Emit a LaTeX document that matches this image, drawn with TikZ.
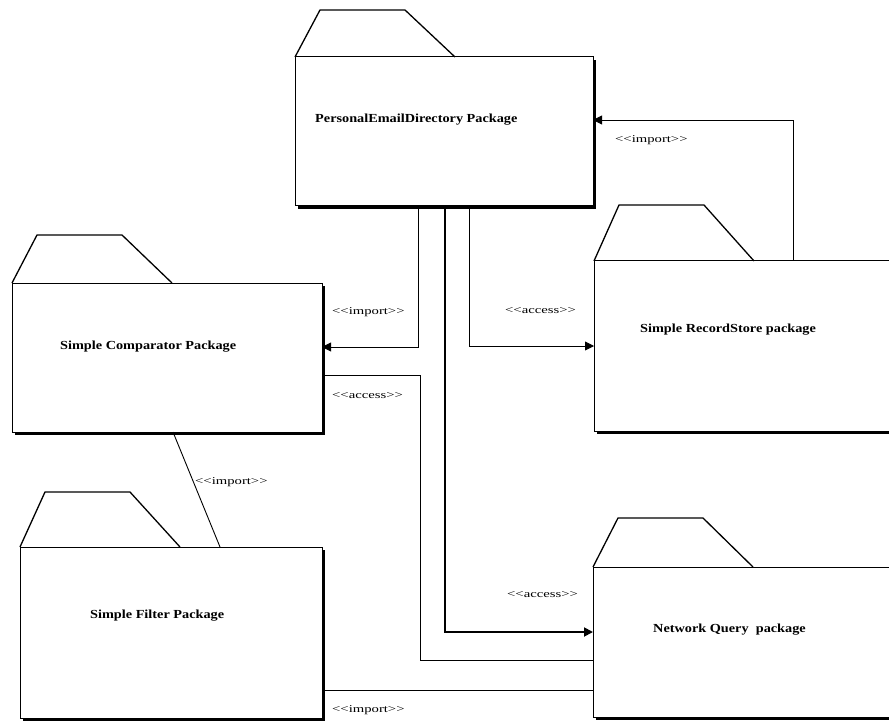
\documentclass[tikz,border=0pt]{standalone}
\usepackage{fontspec}
\setmainfont{Liberation Serif}
\newfontfamily\pkgfont[FakeStretch=1.16]{Liberation Serif}
\newfontfamily\stereofont[FakeStretch=1.4]{Liberation Serif}
\usetikzlibrary{
	arrows.meta,
	calc,
	shadows
}
\tikzset{
	paquete/.style={
		draw,
		line width=1pt,
		fill=white,
		inner sep=0pt,
		outer sep=0pt,
		anchor=north west,
		drop shadow={shadow xshift=3pt, shadow yshift=-3pt, fill=black, opacity=1}
	},
	pestanaLinea/.style={
		line width=1.3pt,
		line join=miter
	},
	nombre/.style={
		anchor=west,
		inner sep=0pt,
		font=\pkgfont\fontsize{12.3}{14}\selectfont\bfseries
	},
	estereotipo/.style={
		anchor=west,
		inner sep=0pt,
		font=\stereofont\fontsize{10.5}{12}\selectfont
	},
	dependencia/.style={
		line width=0.9pt
	},
	flecha/.style={
		-{Triangle[length=9pt,width=9pt]},
		line width=0.9pt
	}
}
% folder tab on top of a package box
\newcommand\pestana[2]{%
	\draw[pestanaLinea] (#1.north west) -- ++(25,-#2) -- ++(85,0) -- ++(50,#2);}

\begin{document}
\begin{tikzpicture}[x=1pt, y=-1pt]
	\useasboundingbox (0,0) rectangle (889,722);

	% packages
	\node[paquete, minimum width=298pt, minimum height=149pt] (ped) at (295,57) {};
	\node[paquete, minimum width=310pt, minimum height=149pt] (cmp) at (12,283) {};
	\node[paquete, minimum width=300pt, minimum height=170pt] (rs) at (594,261) {};
	\node[paquete, minimum width=302pt, minimum height=171pt] (flt) at (20,547) {};
	\node[paquete, minimum width=300pt, minimum height=150pt] (nq) at (593,567) {};
	\pestana{ped}{47}
	\pestana{cmp}{48}
	\pestana{rs}{56}
	\pestana{flt}{55}
	\pestana{nq}{49}

	\node[nombre] (ped-txt) at (315,120) {PersonalEmailDirectory Package};
	\node[nombre] (cmp-txt) at (60,347) {Simple Comparator Package};
	\node[nombre] (rs-txt) at (640,330) {Simple RecordStore package};
	\node[nombre] (flt-txt) at (90,616) {Simple Filter Package};
	\node[nombre] (nq-txt) at (653,630) {Network Query\ \ package};

	% dependencies
	\draw[flecha] ($(rs.north west)+(199,0)$) |- ($(ped.north east)+(0,63)$);
	\draw[flecha] ($(ped.south west)+(123,0)$) |- ($(cmp.north east)+(0,64)$);
	\draw[dependencia] ($(cmp.north east)+(0,92)$) -- ++(98,0) |- ($(nq.north west)+(0,93)$);
	\draw[flecha, line width=1.8pt] ($(ped.south west)+(150,0)$) |- ($(nq.north west)+(0,65)$);
	\draw[flecha] ($(ped.south west)+(174,0)$) |- ($(rs.north west)+(0,85)$);
	\draw[dependencia] ($(cmp.south west)+(161,0)$) -- ($(flt.north west)+(200,0)$);
	\draw[dependencia] ($(flt.north east)+(0,143)$) -- ($(nq.north west)+(0,123)$);

	\node[estereotipo] (l-rs-ped) at (615,140) {<<import>>};
	\node[estereotipo] (l-ped-cmp) at (332,312) {<<import>>};
	\node[estereotipo] (l-cmp-nq) at (332,396) {<<access>>};
	\node[estereotipo] (l-ped-nq) at (507,595) {<<access>>};
	\node[estereotipo] (l-ped-rs) at (505,311) {<<access>>};
	\node[estereotipo] (l-cmp-flt) at (195,482) {<<import>>};
	\node[estereotipo] (l-flt-nq) at (332,710) {<<import>>};
\end{tikzpicture}
\end{document}
